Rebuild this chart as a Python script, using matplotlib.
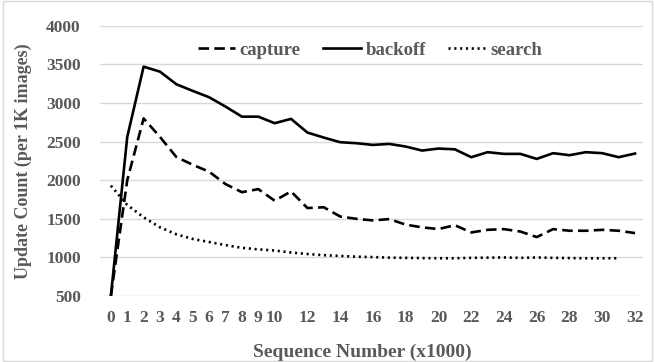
import numpy as np
import matplotlib
matplotlib.use("Agg")
from matplotlib import pyplot as plt
from matplotlib.patches import Rectangle

# values
seq = list(range(0, 33))
capture = [500, 2000, 2800, 2560, 2300, 2200, 2110, 1950, 1845, 1885, 1735, 1855,
           1640, 1650, 1530, 1500, 1480, 1497, 1425, 1390, 1368, 1418, 1324, 1358,
           1367, 1336, 1264, 1367, 1346, 1346, 1358, 1346, 1316]
backoff = [500, 2560, 3470, 3405, 3242, 3156, 3074, 2953, 2823, 2823, 2738, 2794,
           2617, 2552, 2492, 2479, 2457, 2470, 2436, 2384, 2410, 2400, 2298, 2363,
           2341, 2341, 2276, 2350, 2324, 2363, 2350, 2298, 2345]
search_x = list(range(0, 32))
search = [1930, 1680, 1520, 1390, 1300, 1240, 1200, 1160, 1125, 1105, 1090, 1065,
          1045, 1030, 1020, 1010, 1005, 998, 995, 992, 990, 990, 995, 998,
          1000, 995, 1000, 995, 992, 990, 990, 990]

xticks = list(range(0, 11)) + list(range(12, 33, 2))
yticks = [500, 1000, 1500, 2000, 2500, 3000, 3500, 4000]

grey = '#595959'
plt.rcParams['font.family'] = ['Liberation Serif', 'DejaVu Serif']
plt.rcParams['font.weight'] = 'bold'

fig = plt.figure(figsize=(6.55, 3.62), dpi=100)
ax = fig.add_axes([0.153, 0.182, 0.829, 0.747])

ax.plot(seq, capture, color='black', lw=1.9, dashes=(4, 2), label='capture')
ax.plot(seq, backoff, color='black', lw=1.9, label='backoff')
ax.plot(search_x, search, color='black', lw=1.9, dashes=(0.8, 1.4), label='search')

ax.set_xlim(-0.65, 32.5)
ax.set_ylim(500, 4000)
ax.set_xticks(xticks)
ax.set_yticks(yticks)
ax.tick_params(length=0, labelsize=12.5, labelcolor=grey)
ax.tick_params(axis='x', pad=10)
ax.tick_params(axis='y', pad=14)
for lbl in ax.get_xticklabels() + ax.get_yticklabels():
    lbl.set_fontweight('bold')

ax.grid(axis='y', color='#d9d9d9', lw=1)
ax.set_axisbelow(True)
for s in ax.spines.values():
    s.set_visible(False)

ax.set_xlabel('Sequence Number (x1000)', fontsize=14, color=grey,
              fontweight='bold', labelpad=10)
ax.xaxis.set_label_coords(0.482, -0.175)
ax.set_ylabel('Update Count (per 1K images)', fontsize=13, color=grey,
              fontweight='bold', labelpad=10)

leg = ax.legend(loc='center', bbox_to_anchor=(0.497, 0.91), ncol=3, frameon=False,
                fontsize=13.5, handlelength=2.0, columnspacing=1.2, handletextpad=0.25)
for t in leg.get_texts():
    t.set_color(grey)
    t.set_fontweight('bold')

fig.patches.append(Rectangle((0.004, 0.004), 0.992, 0.992, transform=fig.transFigure,
                             fill=False, edgecolor='#d9d9d9', lw=1))

fig.savefig('out.png', dpi=100)
